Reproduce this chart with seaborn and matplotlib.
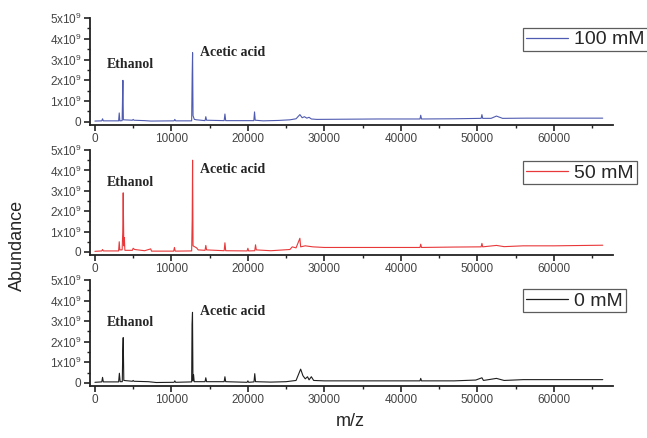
import seaborn as sns
import matplotlib.pyplot as plt
import matplotlib.ticker as mticker
import pandas as pd

# spectra, abundance in units of 1e9
mz_100 = [0, 900, 1000, 1100, 3100, 3180, 3260, 3560, 3620, 3660, 3720, 4900, 5000, 5100,
          6500, 7300, 10350, 10450, 10550, 12650, 12720, 12770, 12830, 13000, 13300, 14400,
          14500, 14600, 16900, 17000, 17100, 20780, 20870, 20960, 22000, 24000, 25500, 26300,
          26800, 27100, 27400, 27700, 28000, 28300, 29000, 33000, 37000, 42500, 42600, 42700,
          47000, 50500, 50600, 50700, 51800, 52500, 53300, 56400, 60000, 66400]
ab_100 = [0.04, 0.05, 0.15, 0.05, 0.05, 0.43, 0.05, 0.06, 1.3, 2.0, 0.1, 0.08, 0.12, 0.08,
          0.06, 0.04, 0.05, 0.12, 0.05, 0.05, 2.3, 3.33, 0.3, 0.12, 0.1, 0.06,
          0.25, 0.08, 0.06, 0.38, 0.06, 0.06, 0.48, 0.08, 0.05, 0.07, 0.1, 0.15,
          0.35, 0.2, 0.25, 0.18, 0.22, 0.14, 0.12, 0.13, 0.14, 0.14, 0.32, 0.14,
          0.15, 0.17, 0.35, 0.17, 0.17, 0.28, 0.17, 0.18, 0.18, 0.18]

mz_50 = [0, 900, 1000, 1100, 3100, 3180, 3260, 3560, 3640, 3700, 3780, 3850, 3920, 4900, 5000,
         5200, 6500, 7300, 7400, 10300, 10400, 10500, 12650, 12720, 12770, 12830, 13300, 13500,
         14400, 14500, 14600, 16900, 17000, 17100, 19900, 20000, 20100, 20900, 21000, 21100,
         23000, 25500, 25800, 26300, 26800, 26900, 27500, 28500, 30000, 35000, 42500, 42600,
         42700, 47000, 50500, 50600, 50700, 52500, 53500, 56000, 60000, 66400]
ab_50 = [0.03, 0.05, 0.12, 0.05, 0.05, 0.5, 0.1, 0.1, 0.95, 2.9, 0.3, 0.7, 0.08, 0.08, 0.18,
         0.12, 0.06, 0.15, 0.04, 0.04, 0.22, 0.04, 0.05, 1.55, 4.5, 0.3, 0.2, 0.1,
         0.08, 0.32, 0.1, 0.06, 0.45, 0.06, 0.05, 0.18, 0.05, 0.06, 0.35, 0.1,
         0.06, 0.12, 0.25, 0.2, 0.67, 0.25, 0.3, 0.25, 0.22, 0.22, 0.22, 0.38,
         0.22, 0.24, 0.25, 0.42, 0.25, 0.32, 0.26, 0.3, 0.3, 0.33]

mz_0 = [0, 900, 1000, 1100, 3100, 3200, 3300, 3580, 3640, 3700, 3780, 4900, 5000, 5100, 7000,
        8000, 10350, 10450, 10550, 12650, 12700, 12760, 12820, 12900, 12980, 14400, 14500,
        14600, 16900, 17000, 17100, 19900, 20000, 20100, 20800, 20900, 21000, 23000, 25000,
        26300, 26900, 27200, 27500, 27800, 28000, 28300, 28600, 30000, 35000, 42500, 42600,
        42700, 47000, 49800, 50600, 50800, 52500, 53500, 56000, 60000, 66400]
ab_0 = [0.03, 0.05, 0.27, 0.05, 0.05, 0.47, 0.06, 0.06, 1.55, 2.2, 0.12, 0.08, 0.12, 0.08, 0.06,
        0.02, 0.03, 0.1, 0.03, 0.05, 2.85, 3.43, 0.1, 0.4, 0.06, 0.06, 0.25,
        0.06, 0.06, 0.3, 0.06, 0.03, 0.1, 0.03, 0.05, 0.45, 0.06, 0.04, 0.06,
        0.12, 0.67, 0.35, 0.2, 0.3, 0.15, 0.3, 0.12, 0.1, 0.1, 0.1, 0.22,
        0.1, 0.1, 0.14, 0.25, 0.12, 0.22, 0.12, 0.16, 0.16, 0.16]

labels = ['100 mM', '50 mM', '0 mM']
colors = ['#4f5bb0', '#e8383a', '#1e1e1e']
series = [(mz_100, ab_100), (mz_50, ab_50), (mz_0, ab_0)]
ethanol_y = [2.74, 3.43, 2.93]
acetic_y = [3.32, 4.02, 3.46]

sns.set_style('ticks')
plt.rcParams['font.family'] = ['Liberation Sans', 'DejaVu Sans']
plt.rcParams['mathtext.fontset'] = 'custom'
plt.rcParams['mathtext.rm'] = 'Liberation Sans'

fig = plt.figure(figsize=(6.47, 4.38), dpi=100)

# axes boxes: [left, bottom, width, height] in figure fraction
boxes = [[0.139, 0.7146, 0.808, 0.2443],
         [0.139, 0.4178, 0.808, 0.2397],
         [0.139, 0.1187, 0.808, 0.2420]]
legend_top = [0.907, 0.895, 0.915]

tick_color = '#444444'


def fmt_abund(v, pos):
    if abs(v) < 1e-6:
        return '0'
    return r'%dx10$^{9}$' % round(v)


for i, (mz, ab) in enumerate(series):
    ax = fig.add_axes(boxes[i])
    df = pd.DataFrame({'m/z': mz, 'Abundance': ab})
    sns.lineplot(data=df, x='m/z', y='Abundance', ax=ax, color=colors[i],
                 linewidth=0.8, estimator=None, sort=False, label=labels[i])

    ax.set_xlim(-650, 67700)
    ax.set_ylim(-0.15, 5.0)
    ax.xaxis.set_major_locator(mticker.MultipleLocator(10000))
    ax.xaxis.set_minor_locator(mticker.MultipleLocator(5000))
    ax.yaxis.set_major_locator(mticker.MultipleLocator(1))
    ax.yaxis.set_minor_locator(mticker.MultipleLocator(0.5))
    ax.yaxis.set_major_formatter(mticker.FuncFormatter(fmt_abund))
    ax.tick_params(which='major', direction='out', length=4, width=1.2,
                   labelsize=8.5, labelcolor=tick_color, color='#222222', pad=2)
    ax.tick_params(which='minor', direction='out', length=2.5, width=1.0, color='#222222')
    for s in ['left', 'bottom']:
        ax.spines[s].set_linewidth(1.3)
        ax.spines[s].set_color('#222222')
    sns.despine(ax=ax)
    ax.set_xlabel('')
    ax.set_ylabel('')

    ax.text(1570, ethanol_y[i], 'Ethanol', family='Liberation Serif', weight='bold',
            fontsize=10, va='center', ha='left')
    ax.text(13700, acetic_y[i], 'Acetic acid', family='Liberation Serif', weight='bold',
            fontsize=10, va='center', ha='left')

    leg = ax.legend(loc='upper left', bbox_to_anchor=(0.828, legend_top[i]),
                    frameon=True, fancybox=False, fontsize=14, handlelength=2.2,
                    handletextpad=0.3, borderpad=0.15, borderaxespad=0)
    leg.get_frame().set_edgecolor('#333333')
    leg.get_frame().set_linewidth(0.9)
    for line in leg.get_lines():
        line.set_linewidth(0.9)

fig.text(0.027, 0.44, 'Abundance', rotation=90, fontsize=13, ha='center', va='center')
fig.text(0.541, 0.018, 'm/z', fontsize=13, ha='center', va='bottom')

fig.savefig('out.png', dpi=100)
